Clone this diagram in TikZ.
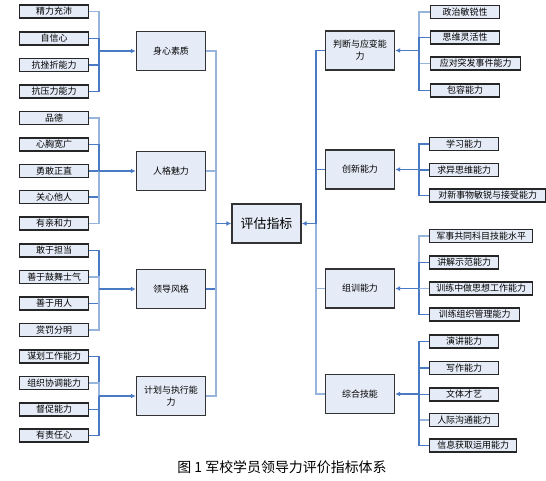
\documentclass[tikz,border=0pt]{standalone}
\usepackage{fontspec}
\setmainfont{Noto Sans CJK SC}
\usetikzlibrary{positioning,arrows.meta}
\definecolor{boxfill}{RGB}{230,236,247}
\definecolor{linkblue}{RGB}{74,122,196}
\definecolor{linklight}{RGB}{150,180,220}
\tikzset{
  link/.style={draw=linkblue, line width=1.2bp},
  linklt/.style={draw=linklight, line width=1.4bp},
  flowarrow/.style={-{Latex[length=5bp,width=5bp]}, draw=linkblue, line width=1.8bp},
  leaf/.style={draw=black!85, line width=1.3bp, fill=boxfill, minimum width=69bp, minimum height=13bp, inner sep=1bp, anchor=west, font=\fontsize{9}{10}\selectfont},
  mainbox/.style={draw=black!80, line width=1.4bp, fill=boxfill, minimum width=69bp, minimum height=39bp, inner sep=2bp, align=center, font=\fontsize{9}{12}\selectfont},
  rootbox/.style={mainbox, font=\fontsize{13}{15}\selectfont}
}
\begin{document}
\begin{tikzpicture}[x=1bp, y=-1bp]
  \useasboundingbox (0,0) rectangle (546,481);
  % root
  \node[rootbox] (root) at (266.5,223.5) {评估指标};
  % left main boxes
  \node[mainbox] (sx) at (171,51) {身心素质};
  \node[mainbox] (rg) at (171,171) {人格魅力};
  \node[mainbox] (ld) at (171,289) {领导风格};
  \node[mainbox] (jh) at (171,396) {计划与执行能\\力};
  % right main boxes
  \node[mainbox] (pd) at (360,50.5) {判断与应变能\\力};
  \node[mainbox] (cx) at (360,169.5) {创新能力};
  \node[mainbox] (zx) at (360,288.5) {组训能力};
  \node[mainbox] (zh) at (360,394) {综合技能};
  % left leaves
  \node[leaf] (sx1) at (19,11.5) {精力充沛};
  \node[leaf] (sx2) at (19,38.5) {自信心};
  \node[leaf] (sx3) at (19,65) {抗挫折能力};
  \node[leaf] (sx4) at (19,91.5) {抗压力能力};
  \node[leaf] (rg1) at (19,118) {品德};
  \node[leaf] (rg2) at (19,144.5) {心胸宽广};
  \node[leaf] (rg3) at (19,171) {勇敢正直};
  \node[leaf] (rg4) at (19,197) {关心他人};
  \node[leaf] (rg5) at (19,223.5) {有亲和力};
  \node[leaf] (ld1) at (19,250.5) {敢于担当};
  \node[leaf] (ld2) at (19,277) {善于鼓舞士气};
  \node[leaf] (ld3) at (19,303.5) {善于用人};
  \node[leaf] (ld4) at (19,330) {赏罚分明};
  \node[leaf] (jh1) at (19,356.5) {谋划工作能力};
  \node[leaf] (jh2) at (19,383) {组织协调能力};
  \node[leaf] (jh3) at (19,409.5) {督促能力};
  \node[leaf] (jh4) at (19,435.5) {有责任心};
  % right leaves
  \node[leaf] (pd1) at (430,12) {政治敏锐性};
  \node[leaf] (pd2) at (430,37.5) {思维灵活性};
  \node[leaf, minimum width=90bp] (pd3) at (430,63.5) {应对突发事件能力};
  \node[leaf] (pd4) at (430,90.5) {包容能力};
  \node[leaf] (cx1) at (429,144) {学习能力};
  \node[leaf] (cx2) at (429,170) {求异思维能力};
  \node[leaf, minimum width=116bp] (cx3) at (429,195.5) {对新事物敏锐与接受能力};
  \node[leaf, minimum width=103bp] (zx1) at (429,236) {军事共同科目技能水平};
  \node[leaf] (zx2) at (429,262.5) {讲解示范能力};
  \node[leaf, minimum width=103bp] (zx3) at (429,288.5) {训练中做思想工作能力};
  \node[leaf, minimum width=90bp] (zx4) at (429,314.5) {训练组织管理能力};
  \node[leaf] (zh1) at (429,341.5) {演讲能力};
  \node[leaf] (zh2) at (429,368) {写作能力};
  \node[leaf] (zh3) at (429,394.5) {文体才艺};
  \node[leaf] (zh4) at (429,420) {人际沟通能力};
  \node[leaf, minimum width=87bp] (zh5) at (429,445.5) {信息获取运用能力};
  % caption
  \node[font=\fontsize{14}{16}\selectfont] (cap) at (282,467) {图 1 军校学员领导力评价指标体系};
  % junctions
  \coordinate (jsx) at (99,51);
  \coordinate (jrg) at (99,171);
  \coordinate (jld) at (99,289);
  \coordinate (jjh) at (99,396);
  \coordinate (jpd) at (419,50.5);
  \coordinate (jcx) at (419,169.5);
  \coordinate (jzx) at (419,288.5);
  \coordinate (jzh) at (419,394);
  \coordinate (jl) at (216,223.5);
  \coordinate (jr) at (316,223.5);
  % left branches
  \draw[linklt] (sx1.east) -| (jsx);
  \draw[link] (sx2.east) -| (jsx);
  \draw[link] (sx3.east) -| (jsx);
  \draw[link] (sx4.east) -| (jsx);
  \draw[flowarrow] (jsx) -- (sx.west);
  \draw[linklt] (rg1.east) -| (jrg);
  \draw[link] (rg2.east) -| (jrg);
  \draw[link] (rg3.east) -| (jrg);
  \draw[link] (rg4.east) -| (jrg);
  \draw[linklt] (rg5.east) -| (jrg);
  \draw[flowarrow] (jrg) -- (rg.west);
  \draw[link] (ld1.east) -| (jld);
  \draw[linklt] (ld2.east) -| (jld);
  \draw[link] (ld3.east) -| (jld);
  \draw[linklt] (ld4.east) -| (jld);
  \draw[flowarrow] (jld) -- (ld.west);
  \draw[link] (jh1.east) -| (jjh);
  \draw[linklt] (jh2.east) -| (jjh);
  \draw[link] (jh3.east) -| (jjh);
  \draw[link] (jh4.east) -| (jjh);
  \draw[flowarrow] (jjh) -- (jh.west);
  % right branches
  \draw[linklt] (pd1.west) -| (jpd);
  \draw[link] (pd2.west) -| (jpd);
  \draw[linklt] (pd3.west) -| (jpd);
  \draw[link] (pd4.west) -| (jpd);
  \draw[flowarrow] (jpd) -- (pd.east);
  \draw[link] (cx1.west) -| (jcx);
  \draw[link] (cx2.west) -| (jcx);
  \draw[link] (cx3.west) -| (jcx);
  \draw[flowarrow] (jcx) -- (cx.east);
  \draw[linklt] (zx1.west) -| (jzx);
  \draw[link] (zx2.west) -| (jzx);
  \draw[linklt] (zx3.west) -| (jzx);
  \draw[link] (zx4.west) -| (jzx);
  \draw[flowarrow] (jzx) -- (zx.east);
  \draw[link] (zh1.west) -| (jzh);
  \draw[link] (zh2.west) -| (jzh);
  \draw[link] (zh3.west) -| (jzh);
  \draw[linklt] (zh4.west) -| (jzh);
  \draw[link] (zh5.west) -| (jzh);
  \draw[flowarrow] (jzh) -- (zh.east);
  % trunks
  \draw[linklt] (sx.east) -| (jl);
  \draw[linklt] (rg.east) -| (jl);
  \draw[link] (ld.east) -| (jl);
  \draw[linklt] (jh.east) -| (jl);
  \draw[flowarrow] (jl) -- (root.west);
  \draw[link] (pd.west) -| (jr);
  \draw[link] (cx.west) -| (jr);
  \draw[linklt] (zx.west) -| (jr);
  \draw[linklt] (zh.west) -| (jr);
  \draw[flowarrow] (jr) -- (root.east);
\end{tikzpicture}
\end{document}
